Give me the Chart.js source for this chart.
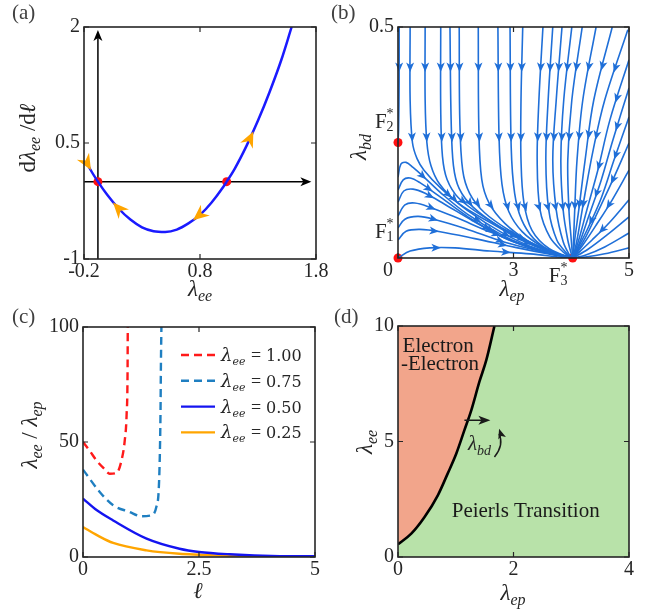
<!DOCTYPE html>
<html>
<head>
<meta charset="utf-8">
<script src="https://cdn.jsdelivr.net/npm/chart.js@4.4.0/dist/chart.umd.min.js"></script>
<style>
  body { margin: 0; background: #fff; width: 662px; height: 614px; position: relative; overflow: hidden; }
  canvas { position: absolute; width: 331px; height: 307px; }
</style>
</head>
<body>
<canvas id="ca" width="331" height="307" style="left:0;top:0"></canvas>
<canvas id="cb" width="331" height="307" style="left:331px;top:0"></canvas>
<canvas id="cc" width="331" height="307" style="left:0;top:307px"></canvas>
<canvas id="cd" width="331" height="307" style="left:331px;top:307px"></canvas>
<script>
// ---------- data ----------

// (a) beta function of lambda_ee
var aLam  = [-0.18, -0.15, -0.08, 0, 0.1, 0.2, 0.3, 0.4, 0.5, 0.6, 0.7, 0.8, 0.9, 1.0, 1.03, 1.1, 1.2, 1.3, 1.4, 1.5, 1.59];
var aRate = [0.26, 0.17, 0, -0.17, -0.35, -0.49, -0.59, -0.64, -0.65, -0.62, -0.54, -0.43, -0.27, -0.07, 0, 0.17, 0.46, 0.79, 1.16, 1.57, 2.0];
var aFixedLam  = [-0.08, 1.03];
var aFixedRate = [0, 0];
// orange flow arrows: tail x, tail y, tip x, tip y
var aFlow = [[-0.19, 0.28, -0.14, 0.15], [0.13, -0.40, 0.05, -0.27], [0.82, -0.40, 0.74, -0.50], [1.20, 0.46, 1.26, 0.65]];
var aTicksX = [-0.2, 0.8, 1.8];
var aTicksY = [-1, 0.5, 2];

// (b) flow in the (lambda_ep, lambda_bd) plane
var bTicksX  = [1, 3, 5];
var bLabelsX = ['0', '3', '5'];
var bTicksY  = [0.5];
var bFixedX = [1, 1, 4.025];
var bFixedY = [0, 0.25, 0];
var bStreamsTop = [
  [[1.02,0.5],[1.02,0.385],[1.01,0.277],[1.0,0.251]],
  [[1.21,0.5],[1.21,0.342],[1.25,0.25],[1.33,0.215],[1.45,0.19],[1.75,0.15],[2.2,0.103],[2.8,0.055],[3.4,0.02],[3.95,0.002]],
  [[1.47,0.5],[1.47,0.342],[1.50,0.25],[1.57,0.2],[1.72,0.16],[2.05,0.118],[2.55,0.08],[3.15,0.038],[3.7,0.01],[3.96,0.001]],
  [[1.74,0.5],[1.74,0.32],[1.77,0.22],[1.85,0.17],[2.05,0.13],[2.5,0.088],[3.1,0.045],[3.7,0.012],[3.97,0.001]],
  [[1.90,0.5],[1.92,0.3],[1.96,0.2],[2.06,0.15],[2.3,0.11],[2.75,0.068],[3.3,0.03],[3.8,0.007],[3.98,0.001]],
  [[2.06,0.5],[2.07,0.3],[2.12,0.19],[2.24,0.14],[2.5,0.098],[2.95,0.058],[3.45,0.024],[3.85,0.005],[3.99,0.001]],
  [[2.39,0.5],[2.40,0.28],[2.45,0.17],[2.58,0.118],[2.85,0.075],[3.25,0.037],[3.7,0.01],[4.0,0.001]],
  [[2.73,0.5],[2.75,0.26],[2.8,0.16],[2.92,0.1],[3.15,0.057],[3.5,0.024],[3.85,0.005],[4.01,0.001]],
  [[2.94,0.5],[2.96,0.24],[3.02,0.14],[3.14,0.083],[3.35,0.042],[3.65,0.015],[4.01,0]],
  [[3.16,0.5],[3.13,0.342],[3.13,0.212],[3.18,0.12],[3.32,0.06],[3.62,0.02],[4.01,0]],
  [[3.51,0.5],[3.44,0.342],[3.41,0.212],[3.46,0.104],[3.63,0.045],[3.86,0.013],[4.01,0]],
  [[3.68,0.5],[3.60,0.342],[3.56,0.212],[3.61,0.104],[3.75,0.039],[3.93,0.009],[4.01,0]],
  [[3.84,0.5],[3.74,0.342],[3.68,0.212],[3.74,0.104],[3.86,0.035],[3.98,0.004],[4.02,0]],
  [[4.01,0.5],[3.87,0.342],[3.82,0.212],[3.86,0.104],[3.94,0.039],[4.02,0]],
  [[4.19,0.5],[4.01,0.342],[3.94,0.212],[3.96,0.104],[4.0,0.039],[4.025,0]],
  [[4.43,0.5],[4.20,0.342],[4.10,0.212],[4.06,0.104],[4.04,0.039],[4.025,0]],
  [[4.71,0.5],[4.39,0.342],[4.24,0.212],[4.13,0.104],[4.06,0.039],[4.03,0]],
  [[4.98,0.494],[4.58,0.342],[4.38,0.234],[4.22,0.126],[4.10,0.039],[4.03,0]]
];
var bStreamsRight = [
  [[5,0.429],[4.67,0.299],[4.46,0.19],[4.27,0.104],[4.13,0.039],[4.03,0]],
  [[5,0.368],[4.72,0.255],[4.52,0.169],[4.31,0.093],[4.15,0.035],[4.03,0]],
  [[5,0.305],[4.74,0.212],[4.52,0.13],[4.29,0.065],[4.12,0.022],[4.03,0]],
  [[5,0.249],[4.72,0.169],[4.46,0.1],[4.24,0.043],[4.03,0]],
  [[5,0.19],[4.71,0.126],[4.43,0.071],[4.20,0.028],[4.03,0]],
  [[5,0.126],[4.67,0.078],[4.36,0.039],[4.03,0]],
  [[5,0.089],[4.62,0.05],[4.29,0.019],[4.03,0]],
  [[5,0.054],[4.58,0.024],[4.24,0.006],[4.03,0]],
  [[5,0.022],[4.58,0.009],[4.24,0.002],[4.03,0]]
];
var bStreamsLeft = [
  [[1,0.175],[1.05,0.203],[1.14,0.207],[1.26,0.196],[1.45,0.175],[1.75,0.14],[2.2,0.095],[2.8,0.05],[3.4,0.017],[4.0,0.001]],
  [[1,0.147],[1.09,0.169],[1.21,0.173],[1.38,0.163],[1.7,0.135],[2.2,0.09],[2.8,0.046],[3.5,0.014],[4.0,0.001]],
  [[1,0.121],[1.10,0.145],[1.26,0.149],[1.47,0.14],[1.8,0.117],[2.3,0.08],[2.9,0.04],[3.6,0.011],[4.01,0.001]],
  [[1,0.091],[1.12,0.115],[1.29,0.119],[1.55,0.11],[2.0,0.088],[2.6,0.056],[3.3,0.024],[3.9,0.004],[4.01,0]],
  [[1,0.065],[1.12,0.084],[1.35,0.09],[1.65,0.083],[2.16,0.064],[2.85,0.034],[3.55,0.012],[4.01,0]],
  [[1,0.039],[1.14,0.058],[1.38,0.062],[1.73,0.057],[2.33,0.042],[3.03,0.023],[3.72,0.006],[4.01,0]],
  [[1,0],[1.21,0.015],[1.55,0.022],[1.99,0.022],[2.59,0.015],[3.29,0.009],[3.81,0.002],[4.01,0]]
];
// fixed point names: subscript, x, y of the label
var bNames = [['1', 0.60, 0.043], ['2', 0.60, 0.281], ['3', 3.61, -0.052]];

// (c) lambda_ee / lambda_ep against l
var cTicksX = [0, 2.5, 5];
var cTicksY = [0, 50, 100];
var cLegend = ['1.00', '0.75', '0.50', '0.25'];
var cEll100   = [0, 0.15, 0.29, 0.45, 0.575, 0.72, 0.83, 0.90, 0.94, 0.96, 0.965];
var cRatio100 = [50, 46, 42, 38.5, 36.2, 36.5, 42, 50.7, 62, 80, 100];
var cEll075   = [0, 0.36, 0.65, 1.0, 1.26, 1.47, 1.58, 1.64, 1.67, 1.68, 1.69];
var cRatio075 = [38, 28.3, 22.5, 19.6, 17.7, 18.1, 21.7, 33, 62, 85, 100];
var cEll050   = [0, 0.3, 0.65, 1.37, 2.08, 2.5, 3.16, 4.24, 5];
var cRatio050 = [25.4, 20.3, 15.9, 8.0, 3.6, 2.2, 1.2, 0.4, 0.3];
var cEll025   = [0, 0.3, 0.65, 1.37, 2.08, 2.5, 3.16, 4.24, 5];
var cRatio025 = [13, 9.5, 6.1, 2.9, 1.4, 1.0, 0.5, 0.2, 0.1];

// (d) phase boundary
var dTicksX = [0, 2, 4];
var dTicksY = [0, 5, 10];
var dEp = [0, 0.23, 0.46, 0.69, 0.86, 1.01, 1.15, 1.27, 1.41, 1.53, 1.67];
var dEe = [0.55, 1.01, 1.73, 2.67, 3.61, 4.48, 5.49, 6.36, 7.59, 8.53, 10];

// ---------- helpers ----------
var SERIF = '"Liberation Serif", "Times New Roman", serif';
var MATHF = '"DejaVu Serif", serif';
var INK = '#262626';

function xy(xs, ys) { return xs.map(function(x, i) { return {x: x, y: ys[i]}; }); }
function pairs(p) { return p.map(function(q) { return {x: q[0], y: q[1]}; }); }

function head(ctx, tx, ty, ang, len, half, notch) {
  ctx.save();
  ctx.translate(tx, ty);
  ctx.rotate(ang);
  ctx.beginPath();
  ctx.moveTo(0, 0);
  ctx.lineTo(-len, -half);
  ctx.lineTo(-len + notch, 0);
  ctx.lineTo(-len, half);
  ctx.closePath();
  ctx.fill();
  ctx.restore();
}

// parts: [text, kind]  kind r = roman, i = italic, b = italic subscript
function mathText(ctx, parts, cx, cy, size, rot, family) {
  var fam = family || SERIF;
  var sub = Math.round(size * 0.68);
  function fontOf(k) { return (k === 'r' ? '' : 'italic ') + (k === 'b' ? sub : size) + 'px ' + fam; }
  var w = 0;
  parts.forEach(function(p) { ctx.font = fontOf(p[1]); w += ctx.measureText(p[0]).width; });
  ctx.save();
  ctx.translate(cx, cy);
  if (rot) ctx.rotate(-Math.PI / 2);
  ctx.fillStyle = INK;
  ctx.textAlign = 'left';
  ctx.textBaseline = 'alphabetic';
  var x = -w / 2, base = size * 0.3;
  parts.forEach(function(p) {
    ctx.font = fontOf(p[1]);
    ctx.fillText(p[0], x, p[1] === 'b' ? base + size * 0.22 : base);
    x += ctx.measureText(p[0]).width;
  });
  ctx.restore();
}

function drawFrame(chart, f) {
  var ctx = chart.ctx, a = chart.chartArea, sx = chart.scales.x, sy = chart.scales.y;
  ctx.save();
  ctx.strokeStyle = INK;
  ctx.lineWidth = 1.2;
  ctx.beginPath();
  f.xTicks.forEach(function(v) {
    var p = sx.getPixelForValue(v);
    ctx.moveTo(p, a.bottom); ctx.lineTo(p, a.bottom - 5);
    ctx.moveTo(p, a.top); ctx.lineTo(p, a.top + 5);
  });
  f.yTicks.forEach(function(v) {
    var p = sy.getPixelForValue(v);
    ctx.moveTo(a.left, p); ctx.lineTo(a.left + 5, p);
    ctx.moveTo(a.right, p); ctx.lineTo(a.right - 5, p);
  });
  ctx.stroke();
  ctx.lineWidth = 1.6;
  ctx.strokeRect(a.left, a.top, a.right - a.left, a.bottom - a.top);

  ctx.fillStyle = INK;
  ctx.font = '20px ' + SERIF;
  ctx.textAlign = 'center';
  ctx.textBaseline = 'top';
  f.xTicks.forEach(function(v, i) {
    ctx.fillText(f.xLabels ? f.xLabels[i] : String(v), sx.getPixelForValue(v) + (f.xShift ? f.xShift[i] : 0), a.bottom + 3);
  });
  ctx.textAlign = 'right';
  ctx.textBaseline = 'middle';
  f.yTicks.forEach(function(v) {
    ctx.fillText(String(v), a.left - 4, sy.getPixelForValue(v));
  });
  ctx.font = '21px ' + SERIF;
  ctx.fillStyle = '#404040';
  ctx.textAlign = 'left';
  ctx.textBaseline = 'top';
  ctx.fillText(f.tag, f.tagX, f.tagY);
  ctx.restore();
  mathText(ctx, f.xTitle, f.xTitlePos[0], f.xTitlePos[1], 23, false);
  mathText(ctx, f.yTitle, f.yTitlePos[0], f.yTitlePos[1], 23, true);
}

function makeChart(id, pad, xr, yr, datasets, deco) {
  return new Chart(document.getElementById(id), {
    type: 'line',
    data: { datasets: datasets },
    options: {
      responsive: false,
      animation: false,
      layout: { padding: pad },
      scales: {
        x: { type: 'linear', min: xr[0], max: xr[1], display: false },
        y: { type: 'linear', min: yr[0], max: yr[1], display: false }
      },
      plugins: { legend: { display: false }, tooltip: { enabled: false } },
      elements: { point: { radius: 0, hoverRadius: 0 } }
    },
    plugins: [deco]
  });
}

// ---------- (a) ----------
makeChart('ca', {left: 84, right: 15, top: 27, bottom: 48}, [-0.2, 1.8], [-1, 2], [
  { data: xy(aLam, aRate), borderColor: '#1a1aff', borderWidth: 2.5, cubicInterpolationMode: 'monotone' },
  { data: xy(aFixedLam, aFixedRate), showLine: false, pointRadius: 4.5, pointBackgroundColor: '#ff1010', pointBorderWidth: 0, clip: false }
], {
  id: 'decoA',
  beforeDatasetsDraw: function(chart) {
    var ctx = chart.ctx, a = chart.chartArea, sx = chart.scales.x, sy = chart.scales.y;
    var ox = sx.getPixelForValue(aFixedLam[0]), oy = sy.getPixelForValue(0);
    ctx.save();
    ctx.strokeStyle = '#000'; ctx.fillStyle = '#000'; ctx.lineWidth = 1.5;
    var topY = sy.getPixelForValue(1.96), rightX = sx.getPixelForValue(1.76);
    ctx.beginPath();
    ctx.moveTo(ox, a.bottom); ctx.lineTo(ox, topY + 4);
    ctx.moveTo(a.left, oy); ctx.lineTo(rightX - 4, oy);
    ctx.stroke();
    head(ctx, ox, topY, -Math.PI / 2, 11, 4.5, 3);
    head(ctx, rightX, oy, 0, 11, 4.5, 3);
    ctx.restore();
  },
  afterDatasetsDraw: function(chart) {
    var ctx = chart.ctx, sx = chart.scales.x, sy = chart.scales.y;
    ctx.save();
    ctx.fillStyle = '#ffa500';
    aFlow.forEach(function(f) {
      var x0 = sx.getPixelForValue(f[0]), y0 = sy.getPixelForValue(f[1]);
      var x1 = sx.getPixelForValue(f[2]), y1 = sy.getPixelForValue(f[3]);
      head(ctx, x1, y1, Math.atan2(y1 - y0, x1 - x0), 16, 7, 5);
    });
    ctx.restore();
    drawFrame(chart, {
      xTicks: aTicksX, yTicks: aTicksY, tag: '(a)', tagX: 12, tagY: 3,
      xTitle: [['λ', 'i'], ['ee', 'b']], xTitlePos: [200, 289],
      yTitle: [['d', 'r'], ['λ', 'i'], ['ee', 'b'], [' /d', 'r'], ['ℓ', 'i']], yTitlePos: [28, 138]
    });
  }
});

// ---------- (b) ----------
var STREAM = '#1f6fd8';
var bSets = [];
bStreamsTop.concat(bStreamsRight, bStreamsLeft).forEach(function(s) {
  bSets.push({ data: pairs(s), borderColor: STREAM, borderWidth: 1.6, tension: 0.35, stream: true });
});
bSets.push({ data: xy(bFixedX, bFixedY), showLine: false, pointRadius: 4.5, pointBackgroundColor: '#ff1010', pointBorderWidth: 0, clip: false });

makeChart('cb', {left: 67, right: 33, top: 27, bottom: 49}, [1, 5], [0, 0.5], bSets, {
  id: 'decoB',
  afterDatasetsDraw: function(chart) {
    var ctx = chart.ctx, sx = chart.scales.x, sy = chart.scales.y;
    ctx.save();
    ctx.fillStyle = STREAM;
    chart.data.datasets.forEach(function(ds, i) {
      if (!ds.stream) return;
      var pts = chart.getDatasetMeta(i).data;
      var seg = [], total = 0;
      for (var k = 1; k < pts.length; k++) {
        var d = Math.hypot(pts[k].x - pts[k - 1].x, pts[k].y - pts[k - 1].y);
        seg.push(d); total += d;
      }
      for (var s = 45; s < total - 35; s += 70) {
        var acc = 0, j = 0;
        while (j < seg.length - 1 && acc + seg[j] < s) { acc += seg[j]; j++; }
        var t = (s - acc) / seg[j];
        var p0 = pts[j], p1 = pts[j + 1];
        head(ctx, p0.x + (p1.x - p0.x) * t, p0.y + (p1.y - p0.y) * t,
             Math.atan2(p1.y - p0.y, p1.x - p0.x), 9.5, 4, 2.5);
      }
    });
    ctx.restore();
    ctx.save();
    ctx.fillStyle = INK;
    ctx.textBaseline = 'alphabetic';
    ctx.textAlign = 'left';
    bNames.forEach(function(n) {
      var px = sx.getPixelForValue(n[1]), py = sy.getPixelForValue(n[2]);
      ctx.font = '21px ' + SERIF;
      ctx.fillText('F', px, py);
      var w = ctx.measureText('F').width;
      ctx.font = '14px ' + SERIF;
      ctx.fillText(n[0], px + w, py + 3);
      ctx.fillText('*', px + w, py - 10);
    });
    ctx.restore();
    drawFrame(chart, {
      xTicks: bTicksX, xLabels: bLabelsX, xShift: [-10, 0, 0], yTicks: bTicksY, tag: '(b)', tagX: 0, tagY: 3,
      xTitle: [['λ', 'i'], ['ep', 'b']], xTitlePos: [181, 289],
      yTitle: [['λ', 'i'], ['bd', 'b']], yTitlePos: [28, 147]
    });
  }
});

// ---------- (c) ----------
var cColors = ['#ff1a1a', '#1f7fc1', '#1414f0', '#ffa500'];
var cDash = [[8, 5], [8, 5], [], []];
var cSeries = [[cEll100, cRatio100], [cEll075, cRatio075], [cEll050, cRatio050], [cEll025, cRatio025]];
makeChart('cc', {left: 83, right: 16, top: 20, bottom: 57}, [0, 5], [0, 100],
  cSeries.map(function(s, i) {
    return { data: xy(s[0], s[1]), borderColor: cColors[i], borderWidth: 2.4, borderDash: cDash[i], cubicInterpolationMode: 'monotone' };
  }), {
  id: 'decoC',
  afterDatasetsDraw: function(chart) {
    var ctx = chart.ctx, a = chart.chartArea;
    cLegend.forEach(function(lab, i) {
      var y = a.top + 28 + i * 25.8;
      ctx.save();
      ctx.strokeStyle = cColors[i];
      ctx.lineWidth = 2.4;
      ctx.setLineDash(cDash[i]);
      ctx.beginPath();
      ctx.moveTo(a.left + 98, y); ctx.lineTo(a.left + 132, y);
      ctx.stroke();
      ctx.restore();
      var x0 = a.left + 138;
      ctx.save();
      ctx.fillStyle = INK;
      ctx.textAlign = 'left';
      ctx.textBaseline = 'alphabetic';
      ctx.font = 'italic 18px ' + MATHF;
      ctx.fillText('λ', x0, y + 6);
      var w = ctx.measureText('λ').width;
      ctx.font = 'italic 11px ' + MATHF;
      ctx.fillText('ee', x0 + w, y + 10);
      ctx.font = '16px ' + SERIF;
      ctx.font = '18px ' + SERIF;
      ctx.fillText('=', x0 + 30, y + 6);
      ctx.font = '16px ' + MATHF;
      ctx.fillText(lab, x0 + 45, y + 6);
      ctx.restore();
    });
    drawFrame(chart, {
      xTicks: cTicksX, yTicks: cTicksY, tag: '(c)', tagX: 12, tagY: 0,
      xTitle: [['ℓ', 'i']], xTitlePos: [198, 284],
      yTitle: [['λ', 'i'], ['ee', 'b'], [' / ', 'r'], ['λ', 'i'], ['ep', 'b']], yTitlePos: [30, 128]
    });
  }
});

// ---------- (d) ----------
makeChart('cd', {left: 67, right: 33, top: 19, bottom: 57}, [0, 4], [0, 10], [
  { data: xy(dEp, dEe), borderColor: '#000', borderWidth: 2.6, fill: 'end', backgroundColor: '#f2a58b', cubicInterpolationMode: 'monotone' }
], {
  id: 'decoD',
  beforeDatasetsDraw: function(chart) {
    var ctx = chart.ctx, a = chart.chartArea;
    ctx.save();
    ctx.fillStyle = '#b8e2a9';
    ctx.fillRect(a.left, a.top, a.right - a.left, a.bottom - a.top);
    ctx.restore();
  },
  afterDatasetsDraw: function(chart) {
    var ctx = chart.ctx, sx = chart.scales.x, sy = chart.scales.y;
    ctx.save();
    ctx.fillStyle = '#1a1a1a';
    ctx.font = '21px ' + SERIF;
    ctx.textAlign = 'left';
    ctx.textBaseline = 'alphabetic';
    ctx.fillText('Electron', sx.getPixelForValue(0.08), sy.getPixelForValue(8.87));
    ctx.fillText('-Electron', sx.getPixelForValue(0.05), sy.getPixelForValue(8.1));
    ctx.fillText('Peierls Transition', sx.getPixelForValue(0.93), sy.getPixelForValue(1.73));
    var ax0 = sx.getPixelForValue(1.15), ax1 = sx.getPixelForValue(1.6), ay = sy.getPixelForValue(5.92);
    ctx.strokeStyle = '#1a1a1a'; ctx.lineWidth = 1.5;
    ctx.beginPath(); ctx.moveTo(ax0, ay); ctx.lineTo(ax1 - 6, ay); ctx.stroke();
    head(ctx, ax1, ay, 0, 12, 4.5, 3);
    var c0x = sx.getPixelForValue(1.67), c0y = sy.getPixelForValue(4.33);
    var ccx = sx.getPixelForValue(1.84), ccy = sy.getPixelForValue(4.85);
    var c1x = sx.getPixelForValue(1.75), c1y = sy.getPixelForValue(5.55);
    ctx.beginPath(); ctx.moveTo(c0x, c0y); ctx.quadraticCurveTo(ccx, ccy, c1x, c1y + 5); ctx.stroke();
    head(ctx, c1x, c1y, Math.atan2(c1y - ccy, c1x - ccx), 10, 4, 2.5);
    ctx.restore();
    mathText(ctx, [['λ', 'i'], ['bd', 'b']], sx.getPixelForValue(1.41), sy.getPixelForValue(4.78) - 3, 21, false);
    drawFrame(chart, {
      xTicks: dTicksX, yTicks: dTicksY, tag: '(d)', tagX: 3, tagY: 0,
      xTitle: [['λ', 'i'], ['ep', 'b']], xTitlePos: [182, 286],
      yTitle: [['λ', 'i'], ['ee', 'b']], yTitlePos: [34, 135]
    });
  }
});
</script>
</body>
</html>
